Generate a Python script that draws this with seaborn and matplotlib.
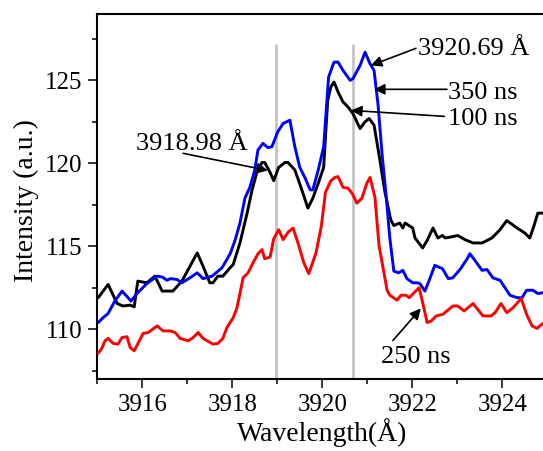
import matplotlib
matplotlib.use("Agg")
import matplotlib.pyplot as plt
from matplotlib.ticker import MultipleLocator
import pandas as pd
import seaborn as sns

# Emission spectra around the 3919-3921 Å doublet at three delay times
wl_100 = [3915.02, 3915.24, 3915.44, 3915.57, 3915.73, 3915.82, 3915.90, 3916.10,
          3916.28, 3916.44, 3916.68, 3916.88, 3917.22, 3917.35, 3917.50, 3917.57,
          3917.68, 3917.79, 3917.95, 3918.02, 3918.17, 3918.33, 3918.44, 3918.55,
          3918.66, 3918.72, 3918.84, 3918.92, 3919.03, 3919.17, 3919.24, 3919.39,
          3919.52, 3919.68, 3919.79, 3919.91, 3920.03, 3920.12, 3920.19, 3920.26,
          3920.35, 3920.46, 3920.57, 3920.68, 3920.84, 3920.95, 3921.04, 3921.15,
          3921.28, 3921.39, 3921.52, 3921.59, 3921.72, 3921.79, 3921.84, 3922.01,
          3922.06, 3922.23, 3922.33, 3922.46, 3922.57, 3922.67, 3922.73, 3922.84,
          3923.01, 3923.17, 3923.35, 3923.55, 3923.77, 3923.95, 3924.10, 3924.33,
          3924.50, 3924.61, 3924.70, 3924.79, 3924.90]
int_100 = [111.9, 112.7, 111.55, 111.4, 111.45, 111.35, 112.9, 112.8,
           113.2, 112.3, 112.3, 112.9, 114.6, 113.8, 112.8, 112.8,
           113.2, 113.2, 113.7, 113.9, 115.2, 117.0, 118.4, 119.5,
           120.05, 120.05, 119.45, 118.95, 119.75, 120.05, 120.05, 119.6,
           118.6, 117.3, 117.9, 118.8, 119.75, 123.8, 124.6, 124.9,
           124.3, 123.7, 123.4, 123.0, 122.1, 122.5, 122.7, 122.3,
           120.2, 118.3, 116.6, 116.25, 116.4, 116.1, 116.4, 116.1,
           115.5, 114.9, 115.35, 116.1, 115.5, 115.65, 115.5, 115.55,
           115.65, 115.4, 115.2, 115.2, 115.5, 116.0, 116.55, 116.1,
           115.8, 115.5, 116.2, 117.0, 117.0]

wl_350 = [3915.02, 3915.13, 3915.24, 3915.39, 3915.55, 3915.75, 3915.88, 3916.10,
          3916.33, 3916.44, 3916.55, 3916.62, 3916.77, 3916.88, 3917.06, 3917.22,
          3917.35, 3917.55, 3917.77, 3917.90, 3917.96, 3918.06, 3918.17, 3918.28,
          3918.39, 3918.50, 3918.57, 3918.68, 3918.79, 3918.88, 3919.01, 3919.13,
          3919.28, 3919.39, 3919.50, 3919.62, 3919.73, 3919.79, 3919.91, 3920.03,
          3920.14, 3920.26, 3920.35, 3920.46, 3920.62, 3920.68, 3920.84, 3920.95,
          3921.06, 3921.15, 3921.24, 3921.33, 3921.42, 3921.50, 3921.59, 3921.70,
          3921.79, 3921.88, 3922.01, 3922.11, 3922.17, 3922.28, 3922.39, 3922.50,
          3922.67, 3922.80, 3922.90, 3923.06, 3923.22, 3923.28, 3923.39, 3923.55,
          3923.66, 3923.79, 3923.95, 3924.06, 3924.17, 3924.33, 3924.44, 3924.54,
          3924.68, 3924.79, 3924.90]
int_350 = [110.4, 110.7, 110.95, 111.7, 112.3, 111.7, 112.15, 112.75,
           113.2, 113.15, 112.95, 113.05, 113.0, 112.8, 113.1, 113.4,
           113.05, 113.2, 113.7, 114.3, 114.6, 115.35, 116.4, 117.9,
           118.55, 119.6, 120.8, 121.2, 120.95, 121.0, 121.9, 122.4,
           122.6, 121.0, 119.75, 119.1, 118.4, 118.4, 119.6, 121.0,
           125.2, 126.1, 126.1, 125.6, 125.0, 125.1, 125.9, 126.7,
           126.0, 125.6, 123.5, 120.5, 118.0, 115.5, 113.5, 113.4,
           113.55, 113.05, 112.8, 112.8, 112.75, 112.3, 113.05, 113.85,
           113.65, 113.05, 113.1, 113.6, 114.25, 114.55, 114.15, 113.55,
           113.6, 113.1, 112.95, 112.5, 112.05, 111.9, 111.9, 112.35,
           112.35, 112.15, 112.2]

wl_250 = [3915.02, 3915.10, 3915.17, 3915.24, 3915.35, 3915.46, 3915.55, 3915.66,
          3915.73, 3915.82, 3916.02, 3916.13, 3916.33, 3916.46, 3916.62, 3916.73,
          3916.84, 3917.02, 3917.13, 3917.24, 3917.35, 3917.57, 3917.68, 3917.79,
          3917.88, 3918.02, 3918.10, 3918.17, 3918.24, 3918.35, 3918.46, 3918.57,
          3918.66, 3918.72, 3918.84, 3918.92, 3919.03, 3919.13, 3919.24, 3919.35,
          3919.46, 3919.59, 3919.70, 3919.86, 3919.98, 3920.07, 3920.19, 3920.28,
          3920.35, 3920.46, 3920.57, 3920.66, 3920.77, 3920.88, 3920.99, 3921.06,
          3921.17, 3921.26, 3921.44, 3921.50, 3921.66, 3921.75, 3921.86, 3921.93,
          3922.15, 3922.21, 3922.33, 3922.42, 3922.53, 3922.68, 3922.90, 3923.01,
          3923.15, 3923.35, 3923.57, 3923.75, 3923.84, 3923.97, 3924.10, 3924.24,
          3924.42, 3924.54, 3924.66, 3924.77, 3924.90]
int_250 = [108.55, 108.85, 109.3, 109.45, 109.15, 109.1, 109.5, 109.55,
           108.9, 108.7, 109.75, 109.8, 110.2, 109.9, 109.9, 109.8,
           109.45, 109.3, 109.5, 109.8, 109.45, 109.1, 109.15, 109.45,
           110.1, 110.7, 111.25, 112.15, 113.1, 113.4, 114.0, 114.55,
           114.8, 114.25, 114.35, 115.45, 116.0, 115.4, 115.85, 116.1,
           115.2, 114.0, 113.35, 114.6, 116.25, 118.25, 118.95, 119.15,
           119.2, 118.55, 118.5, 118.2, 117.6, 117.9, 118.8, 119.15,
           117.95, 115.05, 112.35, 112.05, 111.75, 112.05, 112.05, 111.9,
           112.5, 111.85, 110.4, 110.5, 110.8, 110.9, 111.4, 111.4,
           111.1, 111.55, 110.8, 110.8, 111.0, 111.55, 111.0, 111.3,
           111.85, 110.9, 110.2, 110.05, 110.35]

line_positions = [3918.98, 3920.69]
line_labels = ["3918.98 Å", "3920.69 Å"]
delay_labels = ["100 ns", "350 ns", "250 ns"]

sns.set_theme(style="ticks")
plt.rcParams["font.family"] = ["Liberation Serif", "DejaVu Serif"]
plt.rcParams["text.color"] = "black"
plt.rcParams["axes.labelcolor"] = "black"

fig = plt.figure(figsize=(5.43, 4.51), dpi=100)
ax = fig.add_axes([97.3 / 543, 1 - 379 / 451, 450 / 543, 365 / 451])

# reference wavelengths
ax.vlines(line_positions, 107, 127.2, color="#c4c4c4", lw=2.0, zorder=1)

series = [
    (wl_100, int_100, "#000000"),
    (wl_350, int_350, "#0000ff"),
    (wl_250, int_250, "#ff0000"),
]
for wl, inten, col in series:
    df = pd.DataFrame({"wavelength": wl, "intensity": inten})
    sns.lineplot(data=df, x="wavelength", y="intensity", color=col, lw=2.1,
                 ax=ax, estimator=None, zorder=3)

ax.set_xlim(3915, 3925)
ax.set_ylim(107, 129)
ax.xaxis.set_major_locator(MultipleLocator(2))
ax.xaxis.set_minor_locator(MultipleLocator(1))
ax.yaxis.set_major_locator(MultipleLocator(5))
ax.yaxis.set_minor_locator(MultipleLocator(2.5))
ax.tick_params(which="major", direction="out", length=6.5, width=1.1,
               labelsize=18, color="black", labelcolor="black", pad=4)
ax.tick_params(which="minor", direction="out", length=3.5, width=1.1, color="black")
ax.tick_params(top=False, right=False)
for side in ["left", "bottom", "top"]:
    ax.spines[side].set_linewidth(1.5)
    ax.spines[side].set_color("black")
ax.spines["right"].set_visible(False)

ax.set_xlabel("Wavelength(Å)", fontsize=20, color="black")
ax.set_ylabel("Intensity (a.u.)", fontsize=20, color="black")
ax.xaxis.set_label_coords(0.5, -0.108)
ax.yaxis.set_label_coords(-0.13, 0.49)

arrow = dict(arrowstyle="-|>", color="black", lw=1.2, mutation_scale=16,
             shrinkA=0, shrinkB=0)
fs = 19

# peak wavelength labels
ax.annotate("", xy=(3918.79, 119.57), xytext=(3916.91, 120.6), arrowprops=arrow)
ax.text(3915.86, 120.78, line_labels[0], fontsize=fs, ha="left", va="baseline",
        color="black")
ax.annotate("", xy=(3921.08, 125.9), xytext=(3922.08, 126.93), arrowprops=arrow)
ax.text(3922.12, 126.5, line_labels[1], fontsize=fs, ha="left", va="baseline",
        color="black")

# delay-time labels
ax.annotate("", xy=(3920.64, 123.19), xytext=(3922.71, 122.83), arrowprops=arrow)
ax.text(3922.80, 122.29, delay_labels[0], fontsize=fs, ha="left", va="baseline",
        color="black")
ax.annotate("", xy=(3921.15, 124.46), xytext=(3922.77, 124.46), arrowprops=arrow)
ax.text(3922.79, 123.9, delay_labels[1], fontsize=fs, ha="left", va="baseline",
        color="black")
ax.annotate("", xy=(3922.19, 111.25), xytext=(3921.57, 109.32), arrowprops=arrow)
ax.text(3921.30, 107.99, delay_labels[2], fontsize=fs, ha="left", va="baseline",
        color="black")

fig.savefig("out.png", dpi=100)
